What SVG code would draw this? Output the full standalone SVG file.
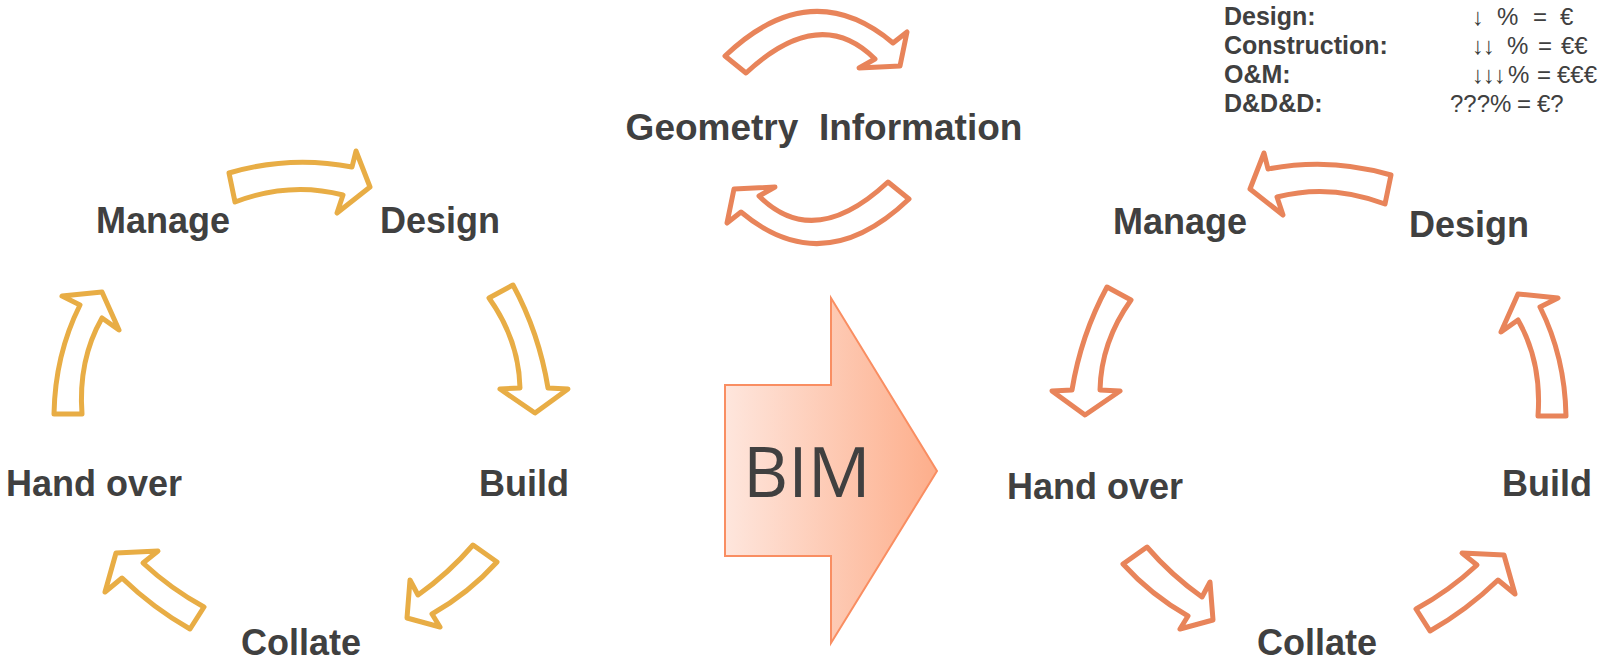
<svg xmlns="http://www.w3.org/2000/svg" xmlns:xlink="http://www.w3.org/1999/xlink" width="1603" height="663" viewBox="0 0 1603 663">
<style>
.lbl{font-family:"Liberation Sans",Arial,sans-serif;font-weight:bold;font-size:36px;fill:#404040;text-anchor:middle}
.leg{font-family:"Liberation Sans",Arial,sans-serif;font-weight:bold;font-size:25px;fill:#404040}
.val{font-family:"Liberation Sans",Arial,sans-serif;font-size:24px;fill:#404040}
.ya{fill:#fff;stroke:#e8ad45;stroke-width:5;stroke-linejoin:round}
.oa{fill:#fff;stroke:#e8845a;stroke-width:5;stroke-linejoin:round}
</style>
<defs>
<linearGradient id="bimGrad" x1="0" y1="0" x2="1" y2="0">
<stop offset="0" stop-color="#fee6dd"/>
<stop offset="1" stop-color="#fdae8b"/>
</linearGradient>
<path id="a1" d="M229,173 Q290,155 352,167 L356,151 L370,187 L337,213 L343,195 Q290,181 235,202 Z"/>
<path id="a2" d="M489,298 L513,285 Q539,333 548,388 L568,389 L535,413 L500,389 L520,388 Q519,340 489,298 Z"/>
<path id="a3" d="M54,414 Q55,355 80,305 L62,296 L102,292 L119,330 L102,318 Q78,360 82,414 Z"/>
<path id="a4" d="M204,607 Q171,589 143,563 L158,551 L116,553 L105,592 L122,578 Q153,608 190,629 Z"/>
<path id="a5" d="M473,545 L497,562 Q469,593 432,614 L440,627 L407,618 L410,580 L418,595 Q449,573 473,545 Z"/>
<path id="atop" d="M725,56 Q811,-26 893,43 L907,32 L900,66 L859,68 L875,59 Q820,4 746,73 Z"/>
</defs>

<g id="connectors">
<g id="left-cycle">
<use xlink:href="#a1" class="ya"/>
<use xlink:href="#a2" class="ya"/>
<use xlink:href="#a3" class="ya"/>
<use xlink:href="#a4" class="ya"/>
<use xlink:href="#a5" class="ya"/>
</g>
<g id="right-cycle" transform="matrix(-1 0 0 1 1620 2)">
<use xlink:href="#a1" class="oa"/>
<use xlink:href="#a2" class="oa"/>
<use xlink:href="#a3" class="oa"/>
<use xlink:href="#a4" class="oa"/>
<use xlink:href="#a5" class="oa"/>
</g>
<g id="geometry-cycle">
<use xlink:href="#atop" class="oa"/>
<use xlink:href="#atop" class="oa" transform="rotate(180 817 127.5)"/>
</g>
</g>

<g id="bim">
<polygon points="725,385 831,385 831,298 937,471 831,643 831,556 725,556" fill="url(#bimGrad)" stroke="#f98e62" stroke-width="2"/>
<text x="743" y="497" font-family="'Open Sans','Noto Sans',sans-serif" font-size="70" fill="#404040">BIM</text>
</g>

<g id="geometry-information"><text class="lbl" x="824" y="140" font-size="37" style="font-size:37px" xml:space="preserve">Geometry  Information</text></g>

<g id="l-manage"><text class="lbl" x="163" y="233">Manage</text></g>
<g id="l-design"><text class="lbl" x="440" y="233">Design</text></g>
<g id="l-handover"><text class="lbl" x="94" y="496">Hand over</text></g>
<g id="l-build"><text class="lbl" x="524" y="496">Build</text></g>
<g id="l-collate"><text class="lbl" x="301" y="655">Collate</text></g>

<g id="r-manage"><text class="lbl" x="1180" y="234">Manage</text></g>
<g id="r-design"><text class="lbl" x="1469" y="237">Design</text></g>
<g id="r-handover"><text class="lbl" x="1095" y="499">Hand over</text></g>
<g id="r-build"><text class="lbl" x="1547" y="496">Build</text></g>
<g id="r-collate"><text class="lbl" x="1317" y="655">Collate</text></g>

<g id="legend">
<text class="leg" x="1224" y="25">Design:</text>
<text class="leg" x="1224" y="54">Construction:</text>
<text class="leg" x="1224" y="83">O&amp;M:</text>
<text class="leg" x="1224" y="112">D&amp;D&amp;D:</text>
<text class="val" y="25"><tspan x="1472">↓</tspan><tspan x="1497">%</tspan><tspan x="1533">=</tspan><tspan x="1560">€</tspan></text>
<text class="val" y="54"><tspan x="1472">↓</tspan><tspan x="1483">↓</tspan><tspan x="1507">%</tspan><tspan x="1538">=</tspan><tspan x="1561">€€</tspan></text>
<text class="val" y="83"><tspan x="1472">↓</tspan><tspan x="1483">↓</tspan><tspan x="1494">↓</tspan><tspan x="1508">%</tspan><tspan x="1537">=</tspan><tspan x="1557">€€€</tspan></text>
<text class="val" y="112"><tspan x="1450">???%</tspan><tspan x="1517">=</tspan><tspan x="1537">€?</tspan></text>
</g>
</svg>
